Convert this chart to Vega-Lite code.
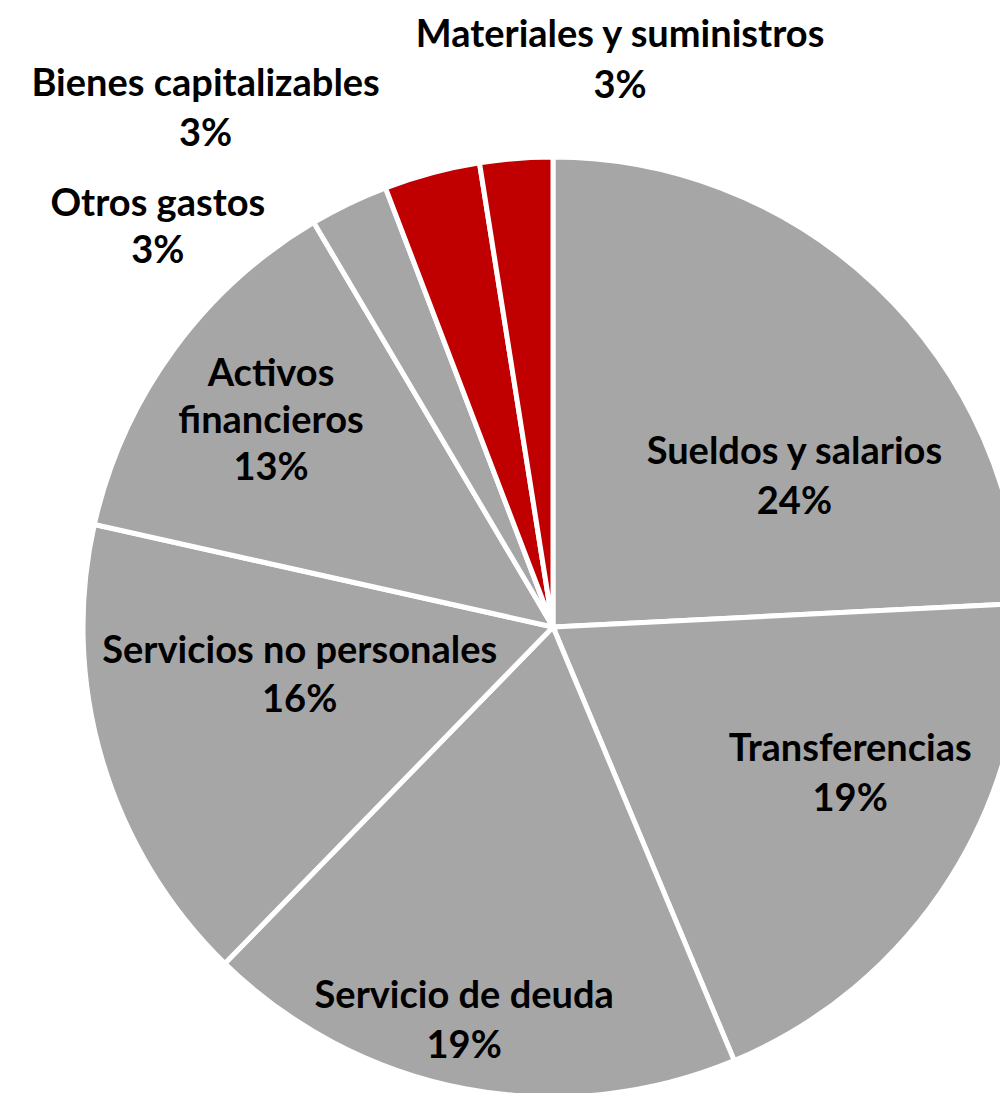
{
  "$schema": "https://vega.github.io/schema/vega-lite/v6.json",
  "width": 894,
  "height": 932,
  "autosize": {"type": "none"},
  "padding": {"left": 106, "top": 161, "right": 0, "bottom": 0},
  "background": "white",
  "view": {"stroke": null},
  "config": {"text": {"font": "Lato", "fontWeight": "bold", "fontSize": 38, "color": "#000000"}},
  "data": {
    "values": [
      {"orden": 1, "categoria": "Sueldos y salarios", "valor": 24.2, "etiqueta": "Sueldos y salarios\n24%"},
      {"orden": 2, "categoria": "Transferencias", "valor": 19.5, "etiqueta": "Transferencias\n19%"},
      {"orden": 3, "categoria": "Servicio de deuda", "valor": 18.6, "etiqueta": "Servicio de deuda\n19%"},
      {"orden": 4, "categoria": "Servicios no personales", "valor": 16.2, "etiqueta": "Servicios no personales\n16%"},
      {"orden": 5, "categoria": "Activos financieros", "valor": 13.0, "etiqueta": "Activos\nfinancieros\n13%"},
      {"orden": 6, "categoria": "Otros gastos", "valor": 2.7, "etiqueta": "Otros gastos\n3%"},
      {"orden": 7, "categoria": "Bienes capitalizables", "valor": 3.3, "etiqueta": "Bienes capitalizables\n3%"},
      {"orden": 8, "categoria": "Materiales y suministros", "valor": 2.5, "etiqueta": "Materiales y suministros\n3%"}
    ]
  },
  "encoding": {
    "theta": {"field": "valor", "type": "quantitative", "stack": true},
    "order": {"field": "orden", "type": "quantitative"}
  },
  "layer": [
    {
      "mark": {"type": "arc", "outerRadius": 470, "stroke": "white", "strokeWidth": 5},
      "encoding": {
        "color": {
          "field": "categoria",
          "type": "nominal",
          "legend": null,
          "scale": {
            "domain": ["Sueldos y salarios", "Transferencias", "Servicio de deuda", "Servicios no personales", "Activos financieros", "Otros gastos", "Bienes capitalizables", "Materiales y suministros"],
            "range": ["#a6a6a6", "#a6a6a6", "#a6a6a6", "#a6a6a6", "#a6a6a6", "#a6a6a6", "#c00000", "#c00000"]
          }
        }
      }
    },
    {
      "mark": {"type": "text", "radius": 330, "dx": 18, "dy": -53, "lineBreak": "\n", "lineHeight": 50, "align": "center", "baseline": "middle"},
      "encoding": {"text": {"condition": {"test": "datum.orden == 2", "field": "etiqueta"}, "value": ""}}
    },
    {
      "mark": {"type": "text", "radius": 330, "dx": -15, "dy": -58, "lineBreak": "\n", "lineHeight": 47, "align": "center", "baseline": "middle"},
      "encoding": {"text": {"condition": {"test": "datum.orden == 5", "field": "etiqueta"}, "value": ""}}
    },
    {
      "mark": {"type": "text", "radius": 330, "dx": 14, "dy": 65, "lineBreak": "\n", "lineHeight": 50, "align": "center", "baseline": "middle"},
      "encoding": {"text": {"condition": {"test": "datum.orden == 1", "field": "etiqueta"}, "value": ""}}
    },
    {
      "mark": {"type": "text", "radius": 330, "dx": -27, "dy": 46, "lineBreak": "\n", "lineHeight": 50, "align": "center", "baseline": "middle"},
      "encoding": {"text": {"condition": {"test": "datum.orden == 3", "field": "etiqueta"}, "value": ""}}
    },
    {
      "mark": {"type": "text", "radius": 330, "dx": 63, "dy": -69, "lineBreak": "\n", "lineHeight": 49, "align": "center", "baseline": "middle"},
      "encoding": {"text": {"condition": {"test": "datum.orden == 4", "field": "etiqueta"}, "value": ""}}
    },
    {
      "mark": {"type": "text", "radius": 560, "dx": -152, "dy": 82, "lineBreak": "\n", "lineHeight": 47, "align": "center", "baseline": "middle"},
      "encoding": {"text": {"condition": {"test": "datum.orden == 6", "field": "etiqueta"}, "value": ""}}
    },
    {
      "mark": {"type": "text", "radius": 560, "dx": -203, "dy": -1, "lineBreak": "\n", "lineHeight": 50, "align": "center", "baseline": "middle"},
      "encoding": {"text": {"condition": {"test": "datum.orden == 7", "field": "etiqueta"}, "value": ""}}
    },
    {
      "mark": {"type": "text", "radius": 560, "dx": 111, "dy": -33, "lineBreak": "\n", "lineHeight": 51, "align": "center", "baseline": "middle"},
      "encoding": {"text": {"condition": {"test": "datum.orden == 8", "field": "etiqueta"}, "value": ""}}
    }
  ]
}
